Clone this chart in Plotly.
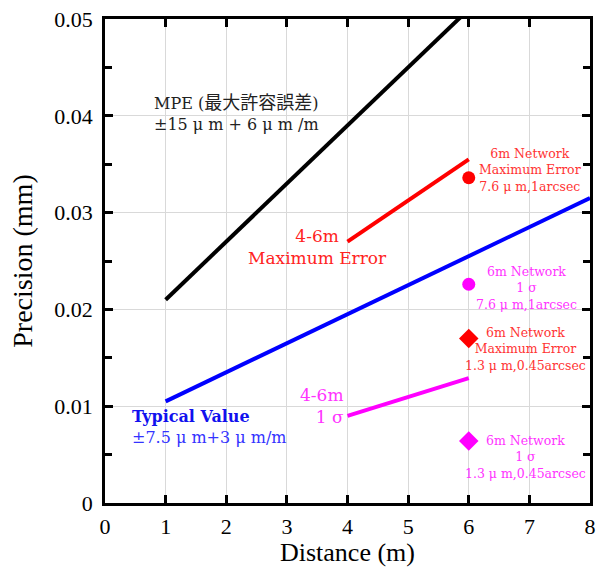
import plotly.graph_objects as go

# Data
mpe_x = [1, 8]
mpe_y = [0.021, 0.063]          # ±15µm + 6µm/m
typ_x = [1, 8]
typ_y = [0.0105, 0.0315]        # ±7.5µm + 3µm/m
maxerr_x = [4, 6]
maxerr_y = [0.027, 0.0355]
sigma_x = [4, 6]
sigma_y = [0.009, 0.0129]
net_circ_x = [6, 6]
net_circ_y = [0.0336, 0.0226]
net_circ_colors = ["#ff0000", "#ff00ff"]
net_diam_x = [6, 6]
net_diam_y = [0.0170, 0.0064]
net_diam_colors = ["#ff0000", "#ff00ff"]
x_ticks = [0, 1, 2, 3, 4, 5, 6, 7, 8]
y_ticks = [0, 0.01, 0.02, 0.03, 0.04, 0.05]
y_tick_labels = ["0", "0.01", "0.02", "0.03", "0.04", "0.05"]
y_minor = [0.005, 0.015, 0.025, 0.035, 0.045]

SERIF = "Liberation Serif, Noto Sans CJK JP, serif"
ASERIF = "DejaVu Serif, Noto Sans CJK JP, serif"

fig = go.Figure()
fig.add_trace(go.Scatter(x=mpe_x, y=mpe_y, mode="lines", line=dict(color="black", width=4)))
fig.add_trace(go.Scatter(x=typ_x, y=typ_y, mode="lines", line=dict(color="#0000ff", width=4)))
fig.add_trace(go.Scatter(x=maxerr_x, y=maxerr_y, mode="lines", line=dict(color="#ff0000", width=4)))
fig.add_trace(go.Scatter(x=sigma_x, y=sigma_y, mode="lines", line=dict(color="#ff00ff", width=4)))
fig.add_trace(go.Scatter(x=net_circ_x, y=net_circ_y, mode="markers",
                         marker=dict(symbol="circle", size=13, color=net_circ_colors)))
fig.add_trace(go.Scatter(x=net_diam_x, y=net_diam_y, mode="markers",
                         marker=dict(symbol="diamond", size=15, color=net_diam_colors)))

def ann(x, y, text, color, size, align="center", xanchor="center", family=ASERIF):
    fig.add_annotation(x=x, y=y, xref="x", yref="y", text=text, showarrow=False,
                       font=dict(family=family, size=size, color=color),
                       align=align, xanchor=xanchor, yanchor="middle")

ann(0.776, 0.0403,
    "MPE (<span style='font-size:18px'>最大許容誤差</span>)<br>±15 μ m + 6 μ m /m",
    "#222222", 16, align="left", xanchor="left")
ann(7.01, 0.03445, "6m Network<br>Maximum Error<br>7.6 μ m,1arcsec", "#ff3333", 12.5)
ann(3.50, 0.02645, "4-6m<br>Maximum Error", "#ff2222", 17)
ann(6.96, 0.02226, "6m Network<br>1 σ<br>7.6 μ m,1arcsec", "#ff33ff", 12.5)
ann(6.93, 0.0159, "6m Network<br>Maximum Error<br>1.3 μ m,0.45arcsec", "#ff3333", 12.5)
ann(3.97, 0.0100, "4-6m<br>1 σ", "#ff33ff", 17, align="right", xanchor="right")
ann(0.41, 0.0079, "<b>Typical Value</b><br><span style='color:#3333ff'>±7.5 μ m+3 μ m/m</span>",
    "#1111ee", 16, align="left", xanchor="left")
ann(6.93, 0.00475, "6m Network<br>1 σ<br>1.3 μ m,0.45arcsec", "#ff33ff", 12.5)

axis_common = dict(showline=True, linecolor="black", linewidth=2.5, mirror="ticks",
                   ticks="inside", ticklen=8, tickwidth=2.5, tickcolor="black",
                   showgrid=True, gridcolor="#d9d9d9", gridwidth=1, zeroline=False,
                   automargin=False,
                   tickfont=dict(family=SERIF, size=22, color="black"))

fig.update_xaxes(range=[0, 8], tickvals=x_ticks, ticklabelstandoff=2,
                 title=dict(text="Distance (m)", standoff=4,
                            font=dict(family=SERIF, size=26, color="black")), **axis_common)
fig.update_yaxes(range=[0, 0.05], tickvals=y_ticks, ticktext=y_tick_labels, ticklabelstandoff=5,
                 minor=dict(tickvals=y_minor, ticks="inside",
                            ticklen=7, tickwidth=2.5, tickcolor="black", showgrid=False),
                 title=dict(text="Precision (mm)", standoff=14,
                            font=dict(family=SERIF, size=28, color="black")), **axis_common)

fig.update_layout(width=597, height=567, margin=dict(l=105, r=7, t=19, b=64),
                  showlegend=False, plot_bgcolor="white", paper_bgcolor="white")

fig.write_html("out.html")
